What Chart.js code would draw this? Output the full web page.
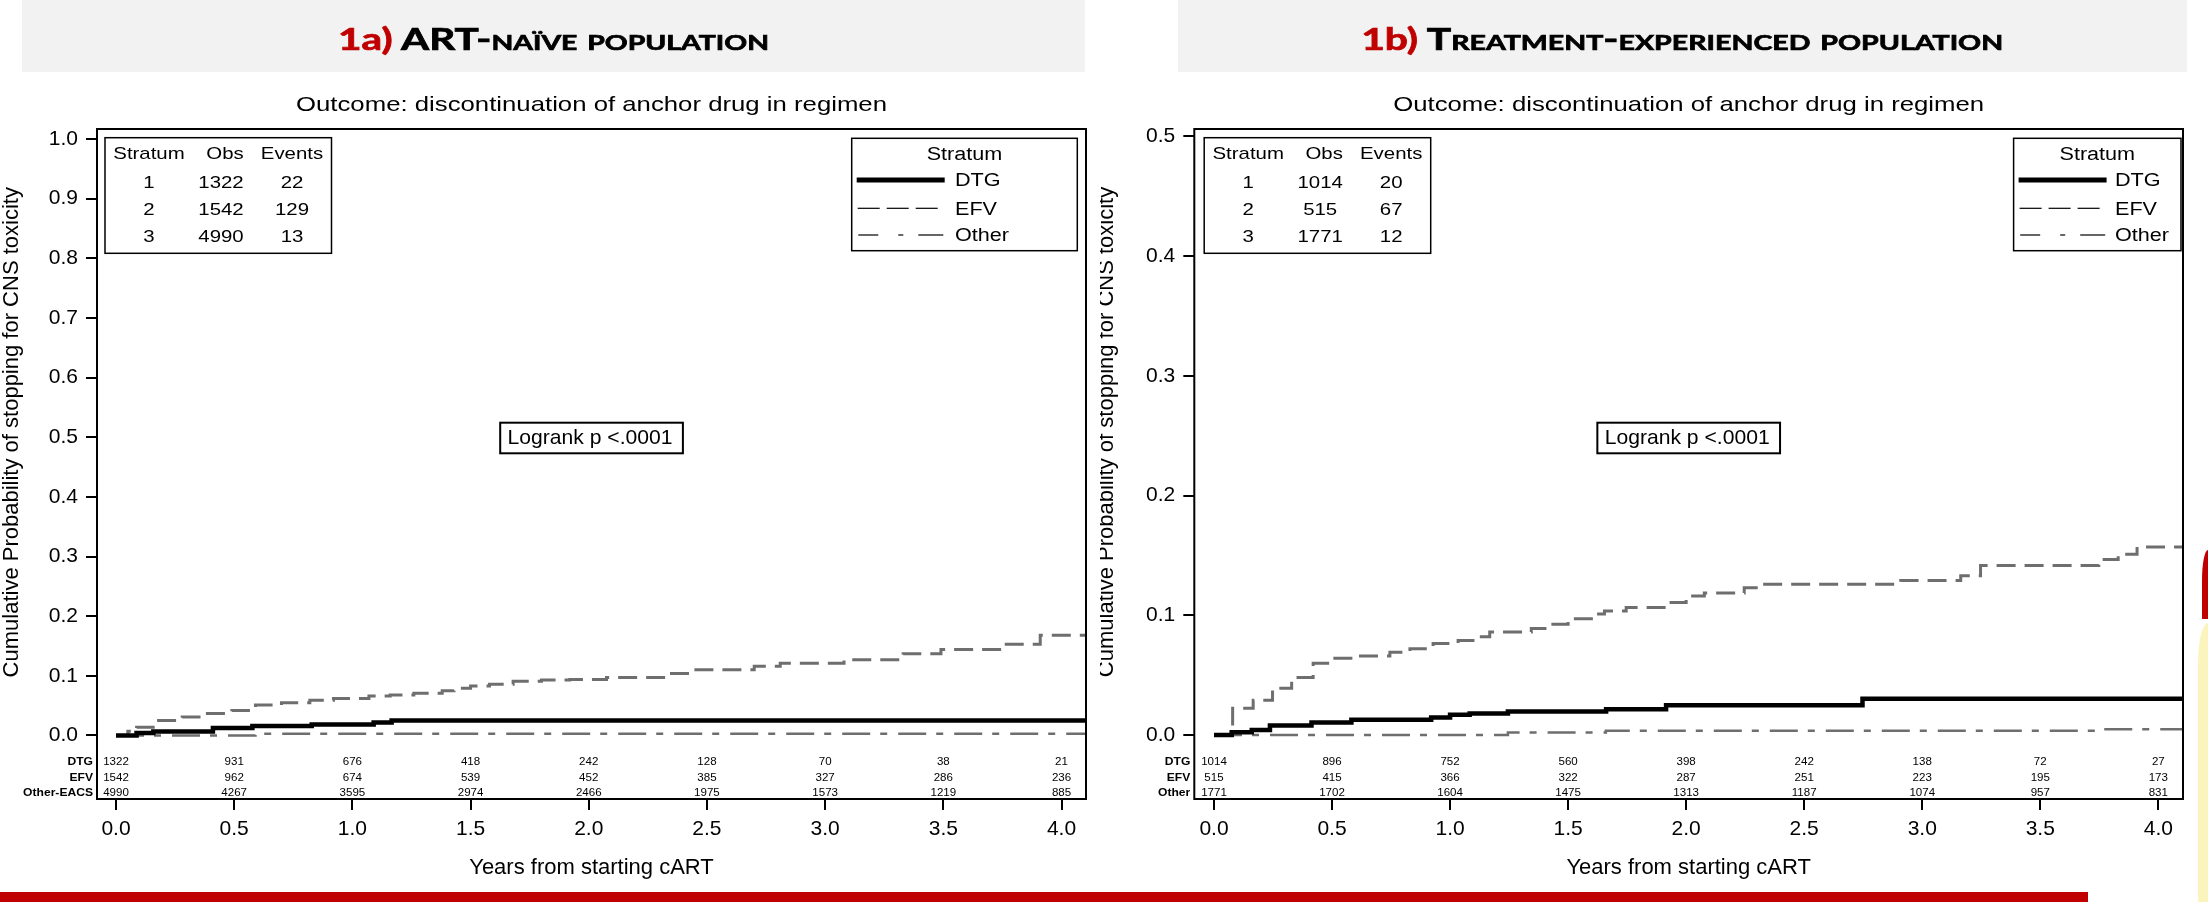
<!DOCTYPE html>
<html><head><meta charset="utf-8">
<script src="https://cdn.jsdelivr.net/npm/chart.js@4.4.1/dist/chart.umd.min.js"></script>
<style>
html,body{margin:0;padding:0;background:#fff;}
body{width:2208px;height:902px;position:relative;overflow:hidden;}
.hdr{position:absolute;top:0;height:72px;background:#f2f2f2;text-align:center;z-index:2;overflow:visible;}
.hdr .t{display:inline-block;font-family:Lato,'Open Sans',sans-serif;font-weight:700;font-size:30px;line-height:76px;color:#000;font-variant:small-caps;white-space:nowrap;transform-origin:50% 50%;-webkit-text-stroke:0.7px #000;}
.hdr .n{color:#c00000;font-variant:normal;-webkit-text-stroke:0.7px #c00000;}
.cv{position:absolute;top:0;}
#redbar{position:absolute;left:0;top:892px;width:2088px;height:10px;background:#c00000;}
#deco1{position:absolute;left:2202px;top:550px;width:6px;height:69px;background:#c00000;border-top-left-radius:6px 30px;}
#deco2{position:absolute;left:2198px;top:623px;width:10px;height:279px;background:#fbf5bd;border-top-left-radius:10px 40px;}
</style></head>
<body>
<div class="hdr" style="left:22px;width:1063px"><span class="t" data-w="431"><span class="n">1a)</span> ART-naïve population</span></div>
<div class="hdr" style="left:1178px;width:1009px"><span class="t" data-w="642"><span class="n">1b)</span> Treatment-experienced population</span></div>
<div class="cv" style="left:0;width:1100px;height:902px"><canvas id="c1" width="1100" height="902"></canvas></div>
<div class="cv" style="left:1100px;width:1108px;height:902px"><canvas id="c2" width="1108" height="902"></canvas></div>
<div id="redbar"></div><div id="deco1"></div><div id="deco2"></div>
<script>
// ---------- DATA ----------
const xTickValues = [0, 0.5, 1.0, 1.5, 2.0, 2.5, 3.0, 3.5, 4.0];
const yTicksNaive = [0, 0.1, 0.2, 0.3, 0.4, 0.5, 0.6, 0.7, 0.8, 0.9, 1.0];
const yTicksExp = [0, 0.1, 0.2, 0.3, 0.4, 0.5];

const strataNames = ['DTG', 'EFV', 'Other'];
const strataNumbers = [1, 2, 3];

// 1a ART-naive
const naiveDtgX = [0, 0.087, 0.158, 0.41, 0.577, 0.828, 1.09, 1.166, 4.11];
const naiveDtgY = [0, 0.004, 0.0065, 0.0124, 0.0158, 0.0186, 0.0218, 0.025, 0.025];
const naiveEfvX = [0, 0.05, 0.087, 0.165, 0.28, 0.37, 0.49, 0.59, 0.70, 0.82, 0.92, 1.07, 1.16, 1.26, 1.38, 1.43, 1.50, 1.58, 1.68, 1.80, 1.92, 2.075, 2.33, 2.44, 2.70, 2.81, 3.08, 3.33, 3.49, 3.75, 3.91, 4.11];
const naiveEfvY = [0, 0.007, 0.014, 0.025, 0.031, 0.037, 0.042, 0.051, 0.055, 0.059, 0.062, 0.066, 0.068, 0.071, 0.075, 0.079, 0.083, 0.086, 0.091, 0.093, 0.094, 0.097, 0.104, 0.110, 0.116, 0.121, 0.127, 0.137, 0.144, 0.153, 0.168, 0.168];
const naiveOthX = [0, 0.59, 4.11];
const naiveOthY = [0, 0.003, 0.003];
const naiveRiskLabels = ['DTG', 'EFV', 'Other-EACS'];
const naiveRiskDtg = [1322, 931, 676, 418, 242, 128, 70, 38, 21];
const naiveRiskEfv = [1542, 962, 674, 539, 452, 385, 327, 286, 236];
const naiveRiskOth = [4990, 4267, 3595, 2974, 2466, 1975, 1573, 1219, 885];
const naiveObs = [1322, 1542, 4990];
const naiveEvents = [22, 129, 13];

// 1b Treatment-experienced
const expDtgX = [0, 0.075, 0.16, 0.237, 0.413, 0.582, 0.92, 1.0, 1.083, 1.245, 1.661, 1.915, 2.747, 4.11];
const expDtgY = [0, 0.0022, 0.0042, 0.0078, 0.0104, 0.0126, 0.0146, 0.0168, 0.018, 0.0196, 0.0214, 0.0248, 0.0302, 0.0302];
const expEfvX = [0, 0.079, 0.166, 0.248, 0.329, 0.42, 0.512, 0.60, 0.745, 0.83, 0.928, 1.034, 1.097, 1.168, 1.344, 1.415, 1.5, 1.605, 1.654, 1.746, 1.915, 2.0, 2.077, 2.246, 2.32, 2.909, 3.163, 3.247, 3.748, 3.83, 3.91, 4.11];
const expEfvY = [0, 0.0224, 0.029, 0.039, 0.048, 0.060, 0.064, 0.066, 0.069, 0.072, 0.0765, 0.079, 0.082, 0.086, 0.089, 0.0924, 0.097, 0.101, 0.1036, 0.1064, 0.1106, 0.116, 0.1185, 0.123, 0.126, 0.129, 0.133, 0.1415, 0.1465, 0.151, 0.157, 0.157];
const expOthX = [0, 1.245, 1.66, 3.748, 4.11];
const expOthY = [0, 0.002, 0.0035, 0.0048, 0.0048];
const expRiskLabels = ['DTG', 'EFV', 'Other'];
const expRiskDtg = [1014, 896, 752, 560, 398, 242, 138, 72, 27];
const expRiskEfv = [515, 415, 366, 322, 287, 251, 223, 195, 173];
const expRiskOth = [1771, 1702, 1604, 1475, 1313, 1187, 1074, 957, 831];
const expObs = [1014, 515, 1771];
const expEvents = [20, 67, 12];

const subtitleText = 'Outcome: discontinuation of anchor drug in regimen';
const yTitleText = 'Cumulative Probability of stopping for CNS toxicity';
const xTitleText = 'Years from starting cART';
const logrankText = 'Logrank p <.0001';

// ---------- HEADER FIT ----------
document.querySelectorAll('.hdr .t').forEach(el => {
  const target = +el.dataset.w;
  const w = el.getBoundingClientRect().width;
  let s = target / w; if (!(s > 0.5 && s < 2)) s = 1;
  el.style.transform = 'scaleX(' + s + ')';
});

// ---------- DRAW HELPERS ----------
const FONT = '"Liberation Sans", Arial, sans-serif';
function drawText(ctx, txt, x, baseline, font, align, sx, fitWidth) {
  ctx.save();
  ctx.font = font; ctx.fillStyle = '#000'; ctx.textBaseline = 'alphabetic'; ctx.textAlign = align;
  let s = sx || 1;
  if (fitWidth) s = fitWidth / ctx.measureText(txt).width;
  ctx.translate(x, baseline); ctx.scale(s, 1); ctx.fillText(txt, 0, 0);
  ctx.restore();
}
function seg(ctx, x1, x2, y) { ctx.beginPath(); ctx.moveTo(x1, y); ctx.lineTo(x2, y); ctx.stroke(); }

function kmPlugin(cfg) {
  return {
    id: 'km_' + cfg.key,
    afterDatasetsDraw(chart) {
      const ctx = chart.ctx, ca = chart.chartArea, xs = chart.scales.x, ys = chart.scales.y;
      const cx = (ca.left + ca.right) / 2;
      ctx.save();
      // frame
      ctx.strokeStyle = '#000'; ctx.lineWidth = 2; ctx.setLineDash([]);
      ctx.strokeRect(ca.left, ca.top, ca.right - ca.left, ca.bottom - ca.top);
      // subtitle
      drawText(ctx, subtitleText, cx, 103 + 0.358 * 21, '21px ' + FONT, 'center', null, 591);
      // y title
      ctx.save();
      ctx.translate(cfg.yTitleX, (ca.top + ys.getPixelForValue(0)) / 2);
      ctx.rotate(-Math.PI / 2);
      ctx.font = '22px ' + FONT; ctx.fillStyle = '#000'; ctx.textAlign = 'center'; ctx.textBaseline = 'middle';
      ctx.fillText(yTitleText, 0, 0);
      ctx.restore();
      // stats table
      const tl = ca.left + cfg.statsOff, tt = 137.7, tw = 226.5, th = 115.6;
      ctx.lineWidth = 1.5; ctx.strokeStyle = '#000';
      ctx.strokeRect(tl, tt, tw, th);
      const sf = '17px ' + FONT, sb = 6.1, sx = 1.2;
      const rowsY = [181.7, 209, 235.7];
      drawText(ctx, 'Stratum', tl + 44, 153.3 + sb, sf, 'center', sx);
      drawText(ctx, 'Obs', tl + 120, 153.3 + sb, sf, 'center', sx);
      drawText(ctx, 'Events', tl + 187, 153.3 + sb, sf, 'center', sx);
      for (let i = 0; i < 3; i++) {
        drawText(ctx, String(strataNumbers[i]), tl + 44, rowsY[i] + sb, sf, 'center', sx);
        drawText(ctx, String(cfg.obs[i]), tl + 116, rowsY[i] + sb, sf, 'center', sx);
        drawText(ctx, String(cfg.events[i]), tl + 187, rowsY[i] + sb, sf, 'center', sx);
      }
      // legend box
      const lr = ca.right - cfg.legRightGap, ll = lr - cfg.legWidth;
      ctx.lineWidth = 1.5; ctx.strokeRect(ll, 138.3, lr - ll, 112.4);
      const lf = '18px ' + FONT, lb = 6.4;
      drawText(ctx, 'Stratum', (ll + lr) / 2, 153.3 + lb, lf, 'center', sx);
      const legY = [180, 208.3, 235];
      ctx.strokeStyle = '#000'; ctx.lineCap = 'butt';
      ctx.lineWidth = 5; seg(ctx, ll + 5, ll + 93, legY[0]);
      ctx.lineWidth = 1.2;
      seg(ctx, ll + 6, ll + 28, legY[1]); seg(ctx, ll + 35, ll + 57, legY[1]); seg(ctx, ll + 64, ll + 86, legY[1]);
      seg(ctx, ll + 6.6, ll + 26.6, legY[2]); seg(ctx, ll + 46.6, ll + 51.6, legY[2]); seg(ctx, ll + 66.6, ll + 91.6, legY[2]);
      for (let i = 0; i < 3; i++) drawText(ctx, strataNames[i], ll + cfg.legTextOff, legY[i] + lb, lf, 'left', sx);
      // logrank box
      ctx.lineWidth = 2;
      ctx.strokeRect(cx - 91.3, 422.7, 182.7, 30.6);
      drawText(ctx, logrankText, cx - 84, 444, '21px ' + FONT, 'left', null, 165);
      // at-risk table
      const riskY = [761, 776.7, 792.3];
      const riskRows = [cfg.riskDtg, cfg.riskEfv, cfg.riskOth];
      for (let r = 0; r < 3; r++) {
        drawText(ctx, cfg.riskLabels[r], ca.left - 4, riskY[r] + 3.9, 'bold 11px ' + FONT, 'right', 1.1);
        for (let i = 0; i < xTickValues.length; i++) {
          drawText(ctx, String(riskRows[r][i]), xs.getPixelForValue(xTickValues[i]), riskY[r] + 3.9, '11px ' + FONT, 'center', 1.05);
        }
      }
      ctx.restore();
    }
  };
}

function pts(xsArr, ysArr) { return xsArr.map((x, i) => ({ x: x, y: ysArr[i] })); }

function makeChart(id, cfg) {
  const tickFont = { family: FONT, size: 21 };
  return new Chart(document.getElementById(id), {
    type: 'line',
    data: {
      datasets: [
        { label: 'DTG', data: pts(cfg.dtgX, cfg.dtgY), borderColor: '#000', borderWidth: 4.5, stepped: 'before', pointRadius: 0, fill: false, borderCapStyle: 'butt' },
        { label: 'EFV', data: pts(cfg.efvX, cfg.efvY), borderColor: '#6e6e6e', borderWidth: 3, borderDash: [19, 9], stepped: 'before', pointRadius: 0, fill: false, borderCapStyle: 'butt' },
        { label: 'Other', data: pts(cfg.othX, cfg.othY), borderColor: '#6e6e6e', borderWidth: 2.5, borderDash: [28, 10, 7, 11], stepped: 'before', pointRadius: 0, fill: false, borderCapStyle: 'butt' }
      ]
    },
    options: {
      responsive: false, animation: false, events: [],
      devicePixelRatio: 1,
      layout: { autoPadding: false, padding: { top: 129, right: cfg.padRight, bottom: 0, left: 0 } },
      plugins: { legend: { display: false }, tooltip: { enabled: false }, title: { display: false } },
      scales: {
        x: {
          type: 'linear', min: cfg.xMin, max: cfg.xMax,
          afterBuildTicks: s => { s.ticks = xTickValues.map(v => ({ value: v })); },
          afterFit: s => { s.height = 103; },
          grid: { drawOnChartArea: false, drawTicks: true, tickLength: 11, color: '#000', lineWidth: 2 },
          border: { display: false },
          ticks: { font: tickFont, color: '#000', padding: 7, maxRotation: 0, autoSkip: false, callback: v => Number(v).toFixed(1) },
          title: { display: true, text: xTitleText, color: '#000', font: { family: FONT, size: 22 }, padding: { top: 0, bottom: 21 } }
        },
        y: {
          type: 'linear', min: cfg.yMin, max: cfg.yMax,
          afterBuildTicks: s => { s.ticks = cfg.yTicks.map(v => ({ value: v })); },
          afterFit: s => { s.width = cfg.yWidth; },
          grid: { drawOnChartArea: false, drawTicks: true, tickLength: 11, color: '#000', lineWidth: 2 },
          border: { display: false },
          ticks: { font: tickFont, color: '#000', padding: 8, autoSkip: false, callback: v => Number(v).toFixed(1) },
          title: { display: false }
        }
      }
    },
    plugins: [kmPlugin(cfg)]
  });
}

makeChart('c1', {
  key: 'naive', dtgX: naiveDtgX, dtgY: naiveDtgY, efvX: naiveEfvX, efvY: naiveEfvY, othX: naiveOthX, othY: naiveOthY,
  xMin: -0.0804, xMax: 4.1036, yMin: -0.1065, yMax: 1.0168, yTicks: yTicksNaive, yWidth: 97, padRight: 14,
  yTitleX: 12.4, statsOff: 8, legRightGap: 8.7, legWidth: 225.6, legTextOff: 103.3,
  obs: naiveObs, events: naiveEvents, riskLabels: naiveRiskLabels,
  riskDtg: naiveRiskDtg, riskEfv: naiveRiskEfv, riskOth: naiveRiskOth
});
makeChart('c2', {
  key: 'exp', dtgX: expDtgX, dtgY: expDtgY, efvX: expEfvX, efvY: expEfvY, othX: expOthX, othY: expOthY,
  xMin: -0.0834, xMax: 4.1046, yMin: -0.0535, yMax: 0.5062, yTicks: yTicksExp, yWidth: 94.3, padRight: 25,
  yTitleX: 7.4, statsOff: 9.9, legRightGap: 2, legWidth: 167.4, legTextOff: 101.4,
  obs: expObs, events: expEvents, riskLabels: expRiskLabels,
  riskDtg: expRiskDtg, riskEfv: expRiskEfv, riskOth: expRiskOth
});
</script>
</body></html>
